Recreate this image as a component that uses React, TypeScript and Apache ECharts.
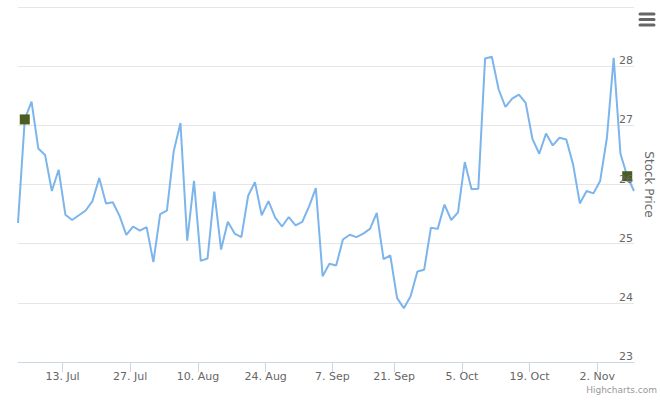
import React, { useEffect, useRef } from 'react';
import * as echarts from 'echarts';

// Daily closing prices (trading days, evenly spaced on an ordinal axis)
const prices: number[] = [
  25.35, 27.10, 27.40, 26.61, 26.50, 25.89, 26.25, 25.49, 25.40, 25.48,
  25.56, 25.72, 26.11, 25.68, 25.70, 25.47, 25.15, 25.29, 25.22, 25.28,
  24.69, 25.50, 25.56, 26.56, 27.04, 25.05, 26.06, 24.71, 24.75, 25.88,
  24.90, 25.37, 25.17, 25.11, 25.81, 26.04, 25.48, 25.72, 25.44, 25.29,
  25.45, 25.31, 25.37, 25.63, 25.94, 24.45, 24.66, 24.63, 25.07, 25.15,
  25.11, 25.17, 25.25, 25.52, 24.74, 24.80, 24.08, 23.91, 24.11, 24.53,
  24.56, 25.27, 25.25, 25.66, 25.40, 25.53, 26.38, 25.92, 25.93, 28.13,
  28.16, 27.61, 27.31, 27.45, 27.52, 27.38, 26.77, 26.52, 26.86, 26.66,
  26.79, 26.76, 26.34, 25.68, 25.89, 25.85, 26.06, 26.79, 28.14, 26.52,
  26.14, 25.89,
];

// Indices of points that carry a square marker
const markedPoints: number[] = [1, 90];

// X-axis tick labels and their positions on the ordinal (trading-day) scale
const tickLabels: string[] = [
  '13. Jul', '27. Jul', '10. Aug', '24. Aug', '7. Sep',
  '21. Sep', '5. Oct', '19. Oct', '2. Nov',
];
const tickPositions: number[] = [6.58, 16.58, 26.58, 36.58, 46.43, 55.58, 65.58, 75.58, 85.58];

// Y-axis range
const yMin = 23;
const yMax = 29;
const yStep = 1;

const FONT = 'DejaVu Sans';

export default function App() {
  const ref = useRef<HTMLDivElement>(null);

  useEffect(() => {
    if (!ref.current) return;
    const chart = echarts.init(ref.current, null, { renderer: 'svg' });

    const lineData = prices.map((v, i) => [i, v]);
    const markerData = markedPoints.map((i) => [i, prices[i]]);

    chart.setOption({
      animation: false,
      backgroundColor: '#ffffff',
      grid: {
        left: 18,
        right: 26,
        top: 7,
        bottom: 38,
        containLabel: false,
        outerBoundsMode: 'none',
      },
      xAxis: {
        type: 'value',
        min: 0,
        max: prices.length - 1,
        splitLine: { show: false },
        axisLine: { show: true, lineStyle: { color: '#ccd6eb', width: 1 } },
        axisTick: {
          show: true,
          length: 10,
          lineStyle: { color: '#ccd6eb', width: 1 },
          customValues: tickPositions,
        },
        axisLabel: {
          show: true,
          customValues: tickPositions,
          margin: 9,
          color: '#666666',
          fontSize: 11,
          fontFamily: FONT,
          formatter: (v: number) => {
            const idx = tickPositions.findIndex((p) => Math.abs(p - v) < 1e-6);
            return idx >= 0 ? tickLabels[idx] : '';
          },
        },
      },
      yAxis: [
        {
          type: 'value',
          position: 'right',
          min: yMin,
          max: yMax,
          interval: yStep,
          name: 'Stock Price',
          nameLocation: 'middle',
          nameRotate: -90,
          nameGap: 9,
          nameTextStyle: { color: '#666666', fontSize: 12, fontFamily: FONT },
          axisLine: { show: false },
          axisTick: { show: false },
          splitLine: { show: true, lineStyle: { color: '#e6e6e6', width: 1 } },
          axisLabel: { show: false },
        },
        {
          type: 'value',
          position: 'right',
          min: yMin,
          max: yMax,
          interval: yStep,
          z: 10,
          axisLine: { show: false },
          axisTick: { show: false },
          splitLine: { show: false },
          axisLabel: {
            inside: true,
            margin: 1,
            showMaxLabel: false,
            verticalAlign: 'bottom',
            color: '#666666',
            fontSize: 11,
            fontFamily: FONT,
          },
        },
      ],
      series: [
        {
          type: 'line',
          name: 'Price',
          data: lineData,
          yAxisIndex: 0,
          z: 2,
          showSymbol: false,
          symbol: 'none',
          lineStyle: { color: '#7cb5ec', width: 2 },
          itemStyle: { color: '#7cb5ec' },
        },
        {
          type: 'scatter',
          name: 'Markers',
          data: markerData,
          yAxisIndex: 0,
          z: 3,
          symbol: 'rect',
          symbolSize: 10,
          itemStyle: { color: '#4b5d20', opacity: 1 },
        },
      ],
      graphic: [
        {
          type: 'group',
          children: [
            { type: 'line', shape: { x1: 640, y1: 14, x2: 654, y2: 14 }, style: { stroke: '#666666', lineWidth: 3, lineCap: 'round' } },
            { type: 'line', shape: { x1: 640, y1: 19.5, x2: 654, y2: 19.5 }, style: { stroke: '#666666', lineWidth: 3, lineCap: 'round' } },
            { type: 'line', shape: { x1: 640, y1: 25, x2: 654, y2: 25 }, style: { stroke: '#666666', lineWidth: 3, lineCap: 'round' } },
          ],
        },
        {
          type: 'text',
          right: 3,
          top: 385,
          style: { text: 'Highcharts.com', fill: '#999999', fontSize: 9, fontFamily: FONT },
        },
      ],
    });

    return () => chart.dispose();
  }, []);

  return (
    <div
      ref={ref}
      style={{ position: 'fixed', left: 0, top: 0, width: 660, height: 400, background: '#ffffff' }}
    />
  );
}
